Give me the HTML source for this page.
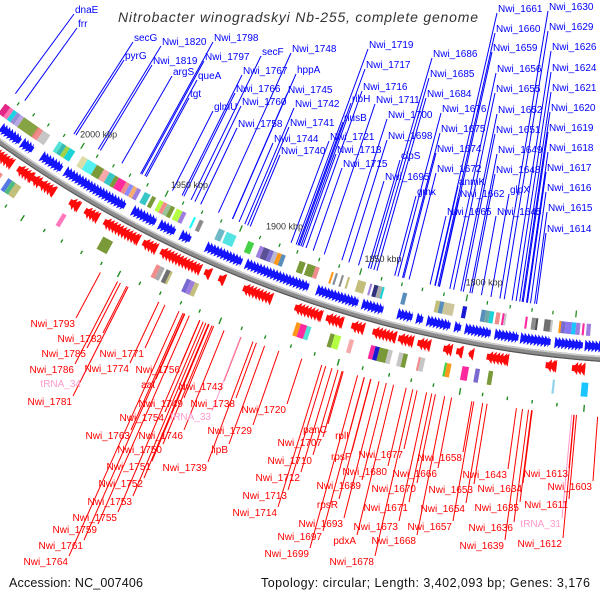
<!DOCTYPE html>
<html><head><meta charset="utf-8"><style>
html,body{margin:0;padding:0;background:#fff;}
svg{display:block;font-family:"Liberation Sans","DejaVu Sans",sans-serif;}
.bl{fill:#0000ff;font-size:10px;}
.rd{fill:#ff0000;font-size:10px;text-anchor:end;}
.pk{fill:#ff99cc;font-size:10px;text-anchor:end;}
</style></head><body>
<svg id="map" width="600" height="600" viewBox="0 0 600 600">
<rect width="600" height="600" fill="#fff"/>
<g id="leaders"></g>
<g id="rings"></g>
<text x="118" y="22" font-size="14" font-style="italic" fill="#333" textLength="360" lengthAdjust="spacing">Nitrobacter winogradskyi Nb-255, complete genome</text>
<g id="fwdlabels">
<text class="bl" x="75" y="13">dnaE</text>
<text class="bl" x="78" y="27">frr</text>
<text class="bl" x="134" y="41">secG</text>
<text class="bl" x="125" y="59">pyrG</text>
<text class="bl" x="162" y="45">Nwi_1820</text>
<text class="bl" x="153" y="64">Nwi_1819</text>
<text class="bl" x="173" y="75">argS</text>
<text class="bl" x="214" y="41">Nwi_1798</text>
<text class="bl" x="205" y="60">Nwi_1797</text>
<text class="bl" x="198" y="79">queA</text>
<text class="bl" x="190" y="97">tgt</text>
<text class="bl" x="214" y="110">glmU</text>
<text class="bl" x="262" y="55">secF</text>
<text class="bl" x="243" y="74">Nwi_1767</text>
<text class="bl" x="236" y="92">Nwi_1766</text>
<text class="bl" x="242" y="105">Nwi_1760</text>
<text class="bl" x="238" y="127">Nwi_1758</text>
<text class="bl" x="292" y="52">Nwi_1748</text>
<text class="bl" x="297" y="73">hppA</text>
<text class="bl" x="288" y="93">Nwi_1745</text>
<text class="bl" x="295" y="107">Nwi_1742</text>
<text class="bl" x="290" y="126">Nwi_1741</text>
<text class="bl" x="274" y="142">Nwi_1744</text>
<text class="bl" x="281" y="154">Nwi_1740</text>
<text class="bl" x="369" y="48">Nwi_1719</text>
<text class="bl" x="366" y="68">Nwi_1717</text>
<text class="bl" x="363" y="90">Nwi_1716</text>
<text class="bl" x="352" y="102">ribH</text>
<text class="bl" x="376" y="103">Nwi_1711</text>
<text class="bl" x="344" y="121">nusB</text>
<text class="bl" x="388" y="118">Nwi_1700</text>
<text class="bl" x="330" y="140">Nwi_1721</text>
<text class="bl" x="388" y="139">Nwi_1698</text>
<text class="bl" x="337" y="153">Nwi_1718</text>
<text class="bl" x="343" y="167">Nwi_1715</text>
<text class="bl" x="401" y="159">clpS</text>
<text class="bl" x="385" y="180">Nwi_1695</text>
<text class="bl" x="417" y="195">gmk</text>
<text class="bl" x="433" y="57">Nwi_1686</text>
<text class="bl" x="430" y="77">Nwi_1685</text>
<text class="bl" x="427" y="97">Nwi_1684</text>
<text class="bl" x="442" y="112">Nwi_1676</text>
<text class="bl" x="441" y="132">Nwi_1675</text>
<text class="bl" x="437" y="152">Nwi_1674</text>
<text class="bl" x="437" y="172">Nwi_1672</text>
<text class="bl" x="459" y="185">anmK</text>
<text class="bl" x="460" y="197">Nwi_1662</text>
<text class="bl" x="510" y="193">glpX</text>
<text class="bl" x="447" y="215">Nwi_1665</text>
<text class="bl" x="497" y="215">Nwi_1645</text>
<text class="bl" x="498" y="12">Nwi_1661</text>
<text class="bl" x="496" y="32">Nwi_1660</text>
<text class="bl" x="493" y="51">Nwi_1659</text>
<text class="bl" x="497" y="72">Nwi_1656</text>
<text class="bl" x="496" y="92">Nwi_1655</text>
<text class="bl" x="498" y="113">Nwi_1652</text>
<text class="bl" x="496" y="133">Nwi_1651</text>
<text class="bl" x="498" y="153">Nwi_1649</text>
<text class="bl" x="496" y="173">Nwi_1648</text>
<text class="bl" x="549" y="10">Nwi_1630</text>
<text class="bl" x="549" y="30">Nwi_1629</text>
<text class="bl" x="552" y="50">Nwi_1626</text>
<text class="bl" x="552" y="71">Nwi_1624</text>
<text class="bl" x="552" y="91">Nwi_1621</text>
<text class="bl" x="551" y="111">Nwi_1620</text>
<text class="bl" x="549" y="131">Nwi_1619</text>
<text class="bl" x="549" y="151">Nwi_1618</text>
<text class="bl" x="547" y="171">Nwi_1617</text>
<text class="bl" x="547" y="191">Nwi_1616</text>
<text class="bl" x="548" y="211">Nwi_1615</text>
<text class="bl" x="547" y="232">Nwi_1614</text>
</g>
<g id="revlabels">
<text class="rd" x="75" y="327">Nwi_1793</text>
<text class="rd" x="102" y="342">Nwi_1782</text>
<text class="rd" x="86" y="357">Nwi_1785</text>
<text class="rd" x="144" y="357">Nwi_1771</text>
<text class="rd" x="74" y="373">Nwi_1786</text>
<text class="rd" x="129" y="372">Nwi_1774</text>
<text class="pk" x="81" y="387">tRNA_34</text>
<text class="rd" x="180" y="373">Nwi_1756</text>
<text class="rd" x="155" y="388">aat</text>
<text class="rd" x="72" y="405">Nwi_1781</text>
<text class="rd" x="223" y="390">Nwi_1743</text>
<text class="rd" x="183" y="407">Nwi_1749</text>
<text class="rd" x="235" y="407">Nwi_1738</text>
<text class="rd" x="164" y="421">Nwi_1754</text>
<text class="pk" x="211" y="420">tRNA_33</text>
<text class="rd" x="286" y="413">Nwi_1720</text>
<text class="rd" x="252" y="434">Nwi_1729</text>
<text class="rd" x="130" y="439">Nwi_1763</text>
<text class="rd" x="183" y="439">Nwi_1746</text>
<text class="rd" x="228" y="453">lipB</text>
<text class="rd" x="162" y="453">Nwi_1750</text>
<text class="rd" x="151" y="470">Nwi_1751</text>
<text class="rd" x="207" y="471">Nwi_1739</text>
<text class="rd" x="143" y="487">Nwi_1752</text>
<text class="rd" x="132" y="505">Nwi_1753</text>
<text class="rd" x="117" y="521">Nwi_1755</text>
<text class="rd" x="97" y="533">Nwi_1759</text>
<text class="rd" x="83" y="549">Nwi_1761</text>
<text class="rd" x="68" y="565">Nwi_1764</text>
<text class="rd" x="327" y="433">panC</text>
<text class="rd" x="322" y="446">Nwi_1707</text>
<text class="rd" x="312" y="464">Nwi_1710</text>
<text class="rd" x="300" y="481">Nwi_1712</text>
<text class="rd" x="287" y="499">Nwi_1713</text>
<text class="rd" x="277" y="516">Nwi_1714</text>
<text class="rd" x="349" y="439">rplI</text>
<text class="rd" x="351" y="460">rpsF</text>
<text class="rd" x="403" y="458">Nwi_1677</text>
<text class="rd" x="462" y="461">Nwi_1658</text>
<text class="rd" x="387" y="475">Nwi_1680</text>
<text class="rd" x="437" y="477">Nwi_1666</text>
<text class="rd" x="361" y="489">Nwi_1689</text>
<text class="rd" x="416" y="492">Nwi_1670</text>
<text class="rd" x="507" y="478">Nwi_1643</text>
<text class="rd" x="568" y="477">Nwi_1613</text>
<text class="rd" x="473" y="493">Nwi_1653</text>
<text class="rd" x="522" y="492">Nwi_1634</text>
<text class="rd" x="592" y="490">Nwi_1603</text>
<text class="rd" x="338" y="508">rpsR</text>
<text class="rd" x="408" y="511">Nwi_1671</text>
<text class="rd" x="465" y="512">Nwi_1654</text>
<text class="rd" x="519" y="511">Nwi_1635</text>
<text class="rd" x="568" y="508">Nwi_1611</text>
<text class="rd" x="343" y="527">Nwi_1693</text>
<text class="rd" x="398" y="530">Nwi_1673</text>
<text class="rd" x="452" y="530">Nwi_1657</text>
<text class="rd" x="513" y="531">Nwi_1636</text>
<text class="pk" x="561" y="527">tRNA_31</text>
<text class="rd" x="322" y="540">Nwi_1697</text>
<text class="rd" x="356" y="544">pdxA</text>
<text class="rd" x="416" y="544">Nwi_1668</text>
<text class="rd" x="504" y="549">Nwi_1639</text>
<text class="rd" x="562" y="547">Nwi_1612</text>
<text class="rd" x="309" y="557">Nwi_1699</text>
<text class="rd" x="374" y="565">Nwi_1678</text>
</g>
<g id="ticks"></g>
<text x="9" y="587" font-size="12.5" fill="#111" textLength="134" lengthAdjust="spacing">Accession: NC_007406</text>
<text x="261" y="587" font-size="12.5" fill="#111" textLength="329" lengthAdjust="spacing">Topology: circular; Length: 3,402,093 bp; Genes: 3,176</text>
</svg>
<script>
// ---- data (kbp) ----
const tickKbp = [2000, 1950, 1900, 1850, 1800];
const tickLabels = ["2000 kbp", "1950 kbp", "1900 kbp", "1850 kbp", "1800 kbp"];
const fwdStart = [2041,2029,2018,2005,1969,1955,1944,1931,1911,1876,1854,1837,1828,1823,1810,1805,1791,1779,1763,1749];
const fwdEnd   = [2030,2023,2007,1973,1957,1947,1939,1913,1880,1856,1844,1830,1825,1812,1807,1793,1780,1765,1750,1736];
const revStart = [2042,2024,2016,2012,1996,1988,1978,1958,1949,1927,1920,1908,1883,1868,1856,1846,1834,1825,1813,1807,1801,1793,1766,1754];
const revEnd   = [2027,2016,2012,2004,1991,1981,1960,1951,1929,1924,1917,1894,1870,1860,1850,1835,1827,1819,1809,1804,1799,1783,1761,1748];
const fwdBoxStart = [2046,2043,2041,2039,2037,2035,2027,2024,2015,2013,2011,2009,2002,1999,1994,1990,1987,1984,1982,1978,1976,1974,1972,1968,1964,1960,1958,1956,1954,1951,1948,1942,1939,1929,1925,1914,1908,1906,1903,1901,1899,1897,1888,1884,1880,1872,1870,1867,1864,1859,1853,1851,1849,1847,1837,1821,1819,1817,1808,1799,1797,1795,1792,1789,1788,1778,1775,1773,1769,1766,1762,1761,1759,1756,1754,1751,1749];
const fwdBoxEnd   = [2043,2041,2039,2037,2035,2026,2024,2020,2013,2011,2009,2006,1999,1994,1990,1987,1984,1982,1978,1976,1974,1972,1970,1965,1962,1958,1956,1954,1952,1948,1946,1941,1937,1926,1920,1911,1906,1903,1901,1899,1897,1895,1885,1880,1878,1871,1869,1866,1863,1855,1852,1849,1847,1846,1835,1819,1817,1812,1806,1797,1795,1793,1790,1788,1787,1777,1773,1772,1766,1765,1761,1759,1756,1754,1752,1750,1747];
const fwdBoxColor = ['#e0107a','#ff66aa','#00d0e0','#8a7fd0','#b0a0e0','#7a9a30','#f08080','#c0c0c0','#40e0d0','#20b2aa','#9acd32','#00ced1','#d8d8a0','#40f0f0','#6b8e23','#f4a0a0','#20c0c0','#6b8e23','#ff1493','#f08080','#8080ff','#f4a460','#9370db','#20c0c0','#6b8e23','#adff2f','#f08080','#8fbc8f','#6b8e23','#adff2f','#9370db','#00ffff','#808080','#5fb0c0','#40e0e0','#32cd32','#9370db','#483d8b','#6a5acd','#b0b0d0','#ff8c00','#4682b4','#6b8e23','#6b8e23','#f08080','#ff8c00','#708090','#808080','#bdb76b','#bdb76b','#9370db','#191970','#a0a0a0','#00ced1','#4682b4','#bdb76b','#4682b4','#c8c090','#0000cd','#4682b4','#5f9ea0','#00ced1','#f08080','#ff1493','#c0c0c0','#ff1493','#808080','#404040','#606060','#c0c0c0','#ff8c00','#6a5acd','#7b68ee','#00bfff','#9370db','#ff1493','#9370db'];
const revBoxStart = [2031,2025,2023,2021,1996,1975,1948,1946,1943,1941,1933,1931,1929,1880,1878,1875,1864,1862,1855,1845,1843,1841,1837,1832,1830,1823,1822,1811,1810,1803,1797,1791,1762,1749];
const revBoxEnd   = [2028,2023,2021,2018,1994,1970,1946,1944,1941,1940,1931,1929,1927,1878,1875,1873,1862,1859,1853,1843,1841,1837,1835,1830,1828,1822,1820,1810,1808,1800,1795,1789,1761,1746];
const revBoxColor = ['#f08080','#4169e1','#3cb371','#bdb76b','#ff69b4','#6b8e23','#f08080','#a0a0a0','#606060','#bdb76b','#6a5acd','#9370db','#bdb76b','#ff8c00','#ff1493','#40e0d0','#6b8e23','#adff2f','#f4a0a0','#ff1493','#0000cd','#6b8e23','#c0c0c0','#c0c0c0','#6b8e23','#f08080','#c0c0c0','#32cd32','#ff8c00','#ff1493','#6a5acd','#6b8e23','#87ceeb','#00bfff'];
const fwdGreen = [2041,2032,2023.5,2014.5,2004.5,1996,1987,1978,1968.5,1958.5,1949.5,1939.5,1929.5,1919.5,1909.5,1899.5,1890.5,1879.5,1869.5,1859,1848.5,1838.5,1828.5,1818,1807,1797,1786,1775.5,1765.5,1754.5];
const fwdGreenTall = [0,0,0,0,1,0,0,0,0,1,0,0,0,1,0,0,0,0,0,1,0,0,0,0,1,0,0,0,0,1];
const revGreen = [2019,2010,1999,1990,1980,1970,1961,1951,1941,1931,1922,1912,1902,1891,1879,1868,1857,1846,1834,1824,1814,1802,1792,1781,1770,1759,1747];
const revGreenTall = [0,1,0,0,0,0,1,0,0,0,0,1,0,0,0,0,1,0,0,0,0,1,0,0,0,0,1];

// ---- geometry ----
const CX = 687, CY = -820, R = 1181;
const NS = "http://www.w3.org/2000/svg";
function ang(k){ return (100.4 + (k - 1800) / 9.45) * Math.PI / 180; }
function P(r, k){ const a = ang(k); return [CX + r * Math.cos(a), CY + r * Math.sin(a)]; }
function pt(p){ return p[0].toFixed(2) + "," + p[1].toFixed(2); }
function mk(tag, attrs, parent){ const e = document.createElementNS(NS, tag); for (const k in attrs) e.setAttribute(k, attrs[k]); parent.appendChild(e); return e; }
const rings = document.getElementById("rings");
const leaders = document.getElementById("leaders");

function arcBox(r1, r2, k1, k2){
  const a = P(r1, k1), b = P(r1, k2), c = P(r2, k2), d = P(r2, k1);
  return "M" + pt(a) + " A" + r1 + "," + r1 + " 0 0 0 " + pt(b) + " L" + pt(c) + " A" + r2 + "," + r2 + " 0 0 1 " + pt(d) + "Z";
}

const bb = mk("path", {d: "M" + pt(P(R + 1, 2060)) + " A" + (R+1) + "," + (R+1) + " 0 0 0 " + pt(P(R + 1, 1720)), fill: "none", stroke: "#8c8c8c", "stroke-width": 6}, rings);


const bbHi = mk("path", {d: "M" + pt(P(R - 1.2, 2060)) + " A" + (R-1.2) + "," + (R-1.2) + " 0 0 0 " + pt(P(R - 1.2, 1720)), fill: "none", stroke: "#d0d0d0", "stroke-width": 1.5}, rings);


const bbLo = mk("path", {d: "M" + pt(P(R + 3.5, 2060)) + " A" + (R+3.5) + "," + (R+3.5) + " 0 0 0 " + pt(P(R + 3.5, 1720)), fill: "none", stroke: "#555", "stroke-width": 1.2}, rings);



function cluster(s, e, dir, rIn, rOut, col, name){
  const g = mk("g", {}, rings);
  
  
  const hi = Math.max(s, e), lo = Math.min(s, e);
  const rm = (rIn + rOut) / 2;
  mk("path", {d: arcBox(rm - 3, rm + 3, hi, lo), fill: col}, g);
  const w = 2.6, step = 1.6;
  for (let k = hi; k > lo + 0.4; k -= step) {
    let tri;
    const k2 = Math.max(lo, k - w);
    if (dir > 0) tri = [P(rIn, k), P(rOut, k), P(rm, k2)];
    else tri = [P(rIn, k2), P(rOut, k2), P(rm, Math.min(hi + 1, k2 + w))];
    mk("polygon", {points: tri.map(pt).join(" "), fill: col}, g);
  }
}
for (let i = 0; i < fwdStart.length; i++) cluster(fwdStart[i], fwdEnd[i], 1, R - 17, R - 5, "#1414ff", "forward-gene-cluster");
for (let i = 0; i < revStart.length; i++) cluster(revStart[i], revEnd[i], -1, R + 6, R + 19, "#ff0a0a", "reverse-gene-cluster");

for (let i = 0; i < fwdBoxStart.length; i++) {
  const b = mk("path", {d: arcBox(R - 33, R - 21, fwdBoxStart[i], fwdBoxEnd[i]), fill: fwdBoxColor[i], opacity: 0.9}, rings);
  
  
}
for (let i = 0; i < revBoxStart.length; i++) {
  const b = mk("path", {d: arcBox(R + 26, R + 40, revBoxStart[i], revBoxEnd[i]), fill: revBoxColor[i], opacity: 0.9}, rings);
  
  
}
for (let i = 0; i < fwdGreen.length; i++) {
  const t = fwdGreenTall[i] ? 4 : 1.3;
  const b = mk("path", {d: arcBox(R - 41 - t, R - 39 + t * 0.2, fwdGreen[i] + 0.3, fwdGreen[i] - 0.3), fill: "#1a8a1a"}, rings);
  
  
}
for (let i = 0; i < revGreen.length; i++) {
  const t = revGreenTall[i] ? 4 : 1.3;
  const b = mk("path", {d: arcBox(R + 49 - t * 0.2, R + 51 + t, revGreen[i] + 0.3, revGreen[i] - 0.3), fill: "#1a8a1a"}, rings);
  
  
}

const ticks = document.getElementById("ticks");
for (let i = 0; i < tickKbp.length; i++) {
  const p = P(R - 57, tickKbp[i]);
  const t = mk("text", {x: p[0].toFixed(1), y: p[1].toFixed(1), "font-size": 9, fill: "#333", "text-anchor": "middle"}, ticks);
  t.textContent = tickLabels[i];
  
  
}

function radialEnd(x, y, r){ const dx = x - CX, dy = y - CY, d = Math.hypot(dx, dy); return [CX + dx * r / d, CY + dy * r / d]; }
document.querySelectorAll("#fwdlabels text").forEach(function(t){
  const ax = +t.getAttribute("x") - 1, ay = +t.getAttribute("y") + 1;
  const e = radialEnd(ax, ay, R - 47);
  const l = mk("line", {x1: ax, y1: ay, x2: e[0].toFixed(1), y2: e[1].toFixed(1), stroke: "#0000ff", "stroke-width": 1}, leaders);
  
  
});
document.querySelectorAll("#revlabels text").forEach(function(t){
  const ax = +t.getAttribute("x") + 1, ay = +t.getAttribute("y") - 9;
  const e = radialEnd(ax, ay, R + 59);
  const pink = t.getAttribute("class") === "pk";
  const l = mk("line", {x1: ax, y1: ay, x2: e[0].toFixed(1), y2: e[1].toFixed(1), stroke: pink ? "#ff99cc" : "#ff0000", "stroke-width": 1}, leaders);
  
  
});
</script>
</body></html>
